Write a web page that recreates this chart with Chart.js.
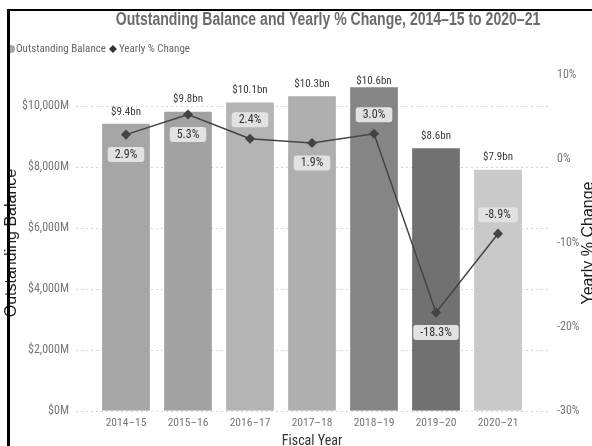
<!DOCTYPE html>
<html><head><meta charset="utf-8">
<script src="https://cdn.jsdelivr.net/npm/chart.js@4/dist/chart.umd.min.js"></script>
<style>
html,body{margin:0;padding:0;background:#fff;overflow:hidden}
#wrap{position:relative;width:592px;height:446px}
canvas{display:block}
</style></head><body>
<div id="wrap"><canvas id="c" width="592" height="446"></canvas></div>
<script>
const categories = ['2014–15','2015–16','2016–17','2017–18','2018–19','2019–20','2020–21'];
const balanceM = [9400, 9800, 10100, 10300, 10600, 8600, 7900];
const balanceLabels = ['$9.4bn','$9.8bn','$10.1bn','$10.3bn','$10.6bn','$8.6bn','$7.9bn'];
const yearlyChange = [2.9, 5.3, 2.4, 1.9, 3.0, -18.3, -8.9];
const changeLabelSide = ['below','below','above','below','above','below','above'];
const leftTicks = [0, 2000, 4000, 6000, 8000, 10000];
const rightTicks = [-30, -20, -10, 0, 10];
const barColors = ['#a6a6a6','#a2a2a2','#b4b4b4','#afafaf','#858585','#717171','#c9c9c9'];

const NARROW = "'Roboto Condensed', 'Liberation Sans', sans-serif";
const SANS = "'Liberation Sans', Arial, sans-serif";

function roundRect(ctx, x, y, w, h, r) {
  ctx.beginPath();
  ctx.moveTo(x + r, y);
  ctx.lineTo(x + w - r, y);
  ctx.quadraticCurveTo(x + w, y, x + w, y + r);
  ctx.lineTo(x + w, y + h - r);
  ctx.quadraticCurveTo(x + w, y + h, x + w - r, y + h);
  ctx.lineTo(x + r, y + h);
  ctx.quadraticCurveTo(x, y + h, x, y + h - r);
  ctx.lineTo(x, y + r);
  ctx.quadraticCurveTo(x, y, x + r, y);
  ctx.closePath();
}

const decor = {
  id: 'decor',
  beforeDatasetsDraw(chart) {
    const ctx = chart.ctx, y = chart.scales.y;
    ctx.save();
    ctx.strokeStyle = '#d4d4d4';
    ctx.lineWidth = 1;
    ctx.setLineDash([2, 3]);
    leftTicks.forEach(v => {
      const py = Math.round(y.getPixelForValue(v)) + 0.5;
      ctx.beginPath();
      ctx.moveTo(76, py);
      ctx.lineTo(550, py);
      ctx.stroke();
    });
    ctx.restore();
  },
  afterDatasetsDraw(chart) {
    const ctx = chart.ctx, area = chart.chartArea;
    const barMeta = chart.getDatasetMeta(1);
    const lineMeta = chart.getDatasetMeta(0);
    ctx.save();
    ctx.textAlign = 'center';
    ctx.textBaseline = 'middle';
    ctx.font = '11px ' + NARROW;
    ctx.fillStyle = '#3a3a3a';
    barMeta.data.forEach((bar, i) => {
      let cy = bar.y - 12;
      if (cy < area.top + 6) cy = area.top + 6;
      ctx.fillText(balanceLabels[i], bar.x, cy);
    });
    ctx.font = '12px ' + NARROW;
    lineMeta.data.forEach((pt, i) => {
      const txt = yearlyChange[i].toFixed(1) + '%';
      const cy = pt.y + (changeLabelSide[i] === 'below' ? 20 : -19);
      const w = ctx.measureText(txt).width + 14;
      const h = 15;
      ctx.fillStyle = '#e2e2e2';
      roundRect(ctx, pt.x - w / 2, cy - h / 2, w, h, 3);
      ctx.fill();
      ctx.fillStyle = '#333';
      ctx.fillText(txt, pt.x, cy + 0.5);
    });
    ctx.restore();
  },
  afterDraw(chart) {
    const ctx = chart.ctx, area = chart.chartArea;
    ctx.save();
    // title (Arial-like bold, horizontally condensed)
    ctx.fillStyle = '#6b6b6b';
    ctx.font = 'bold 18px ' + SANS;
    ctx.textAlign = 'center';
    ctx.textBaseline = 'middle';
    ctx.save();
    ctx.translate(328, 20);
    ctx.scale(0.78, 1);
    ctx.fillText('Outstanding Balance and Yearly % Change, 2014–15 to 2020–21', 0, 0);
    ctx.restore();
    // legend
    ctx.font = '11px ' + NARROW;
    ctx.textAlign = 'left';
    ctx.fillStyle = barColors[0];
    ctx.beginPath();
    ctx.arc(11, 49, 4, 0, Math.PI * 2);
    ctx.fill();
    ctx.fillStyle = '#666';
    const t1 = 'Outstanding Balance';
    ctx.fillText(t1, 16, 49);
    let x = 16 + ctx.measureText(t1).width + 7;
    ctx.fillStyle = '#333';
    ctx.beginPath();
    ctx.moveTo(x, 45); ctx.lineTo(x + 4, 49); ctx.lineTo(x, 53); ctx.lineTo(x - 4, 49);
    ctx.closePath(); ctx.fill();
    ctx.fillStyle = '#666';
    ctx.fillText('Yearly % Change', x + 6, 49);
    // axis titles
    ctx.fillStyle = '#1a1a1a';
    ctx.font = '16px ' + SANS;
    ctx.textAlign = 'center';
    ctx.save();
    ctx.translate(12, 243);
    ctx.rotate(-Math.PI / 2);
    ctx.fillText('Outstanding Balance', 0, 0);
    ctx.restore();
    ctx.save();
    ctx.translate(589, 243);
    ctx.rotate(-Math.PI / 2);
    ctx.fillText('Yearly % Change', 0, 0);
    ctx.restore();
    ctx.fillStyle = '#333';
    ctx.font = '14px ' + NARROW;
    ctx.fillText('Fiscal Year', (area.left + area.right) / 2, 441);
    // frame
    ctx.fillStyle = '#000';
    ctx.fillRect(7, 9, 3, 437);
    ctx.fillRect(7, 9, 585, 2);
    ctx.restore();
  }
};

const noGrid = { display: false, drawTicks: false, tickLength: 0 };
new Chart(document.getElementById('c'), {
  data: {
    labels: categories,
    datasets: [
      {
        type: 'line', label: 'Yearly % Change', data: yearlyChange, yAxisID: 'y1',
        borderColor: '#444', borderWidth: 1.5, tension: 0,
        pointStyle: 'rectRot', pointRadius: 4, pointBackgroundColor: '#444', pointBorderColor: '#444',
        order: 0
      },
      {
        type: 'bar', label: 'Outstanding Balance', data: balanceM, yAxisID: 'y',
        backgroundColor: barColors, barPercentage: 0.77, categoryPercentage: 1, order: 1
      }
    ]
  },
  options: {
    responsive: false, animation: false, devicePixelRatio: 1,
    layout: { padding: { top: 75, left: 0, right: 0, bottom: 0 } },
    plugins: { legend: { display: false }, title: { display: false }, tooltip: { enabled: false } },
    scales: {
      x: {
        grid: noGrid, border: { display: false },
        ticks: { color: '#777', font: { family: NARROW, size: 11.5 }, padding: 5, maxRotation: 0 },
        afterFit: s => { s.height = 34; }
      },
      y: {
        position: 'left', min: 0, max: 11000,
        grid: noGrid, border: { display: false },
        ticks: { color: '#777', font: { family: NARROW, size: 12 }, padding: 26,
          callback: v => '$' + v.toLocaleString('en-US') + 'M' },
        afterBuildTicks: s => { s.ticks = leftTicks.map(v => ({ value: v })); },
        afterFit: s => { s.width = 95; }
      },
      y1: {
        position: 'right', min: -30, max: 10,
        grid: noGrid, border: { display: false },
        ticks: { color: '#777', font: { family: NARROW, size: 12 }, padding: 28, callback: v => v + '%' },
        afterBuildTicks: s => { s.ticks = rightTicks.map(v => ({ value: v })); },
        afterFit: s => { s.width = 63; }
      }
    }
  },
  plugins: [decor]
});
</script>
</body></html>
